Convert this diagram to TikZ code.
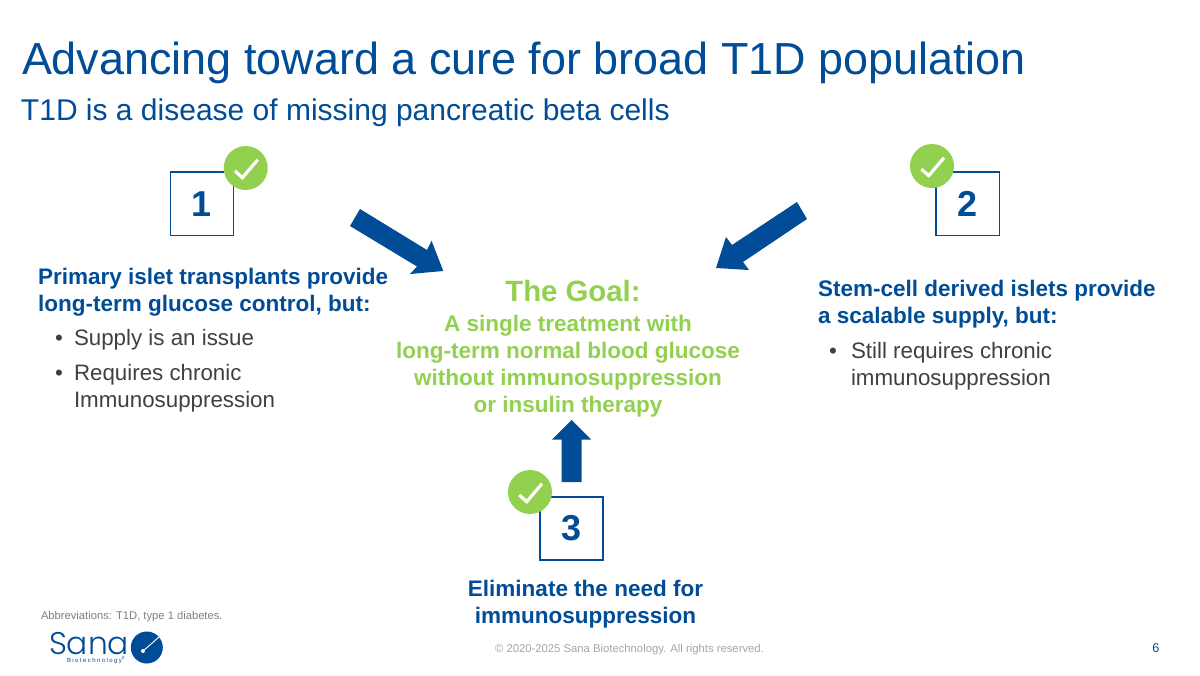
\documentclass[tikz,border=0pt]{standalone}
\usepackage{fontspec}
\setmainfont{Liberation Sans}
\newfontfamily\logofont{Poppins Light}
\newfontfamily\biofont[LetterSpace=24]{Liberation Sans}
\definecolor{sanablue}{HTML}{004C97}
\definecolor{sanagreen}{HTML}{92D050}
\definecolor{abbrgrey}{HTML}{7F7F7F}
\definecolor{footgrey}{HTML}{A6A6A6}
\tikzset{
  x=0.75pt,y=-0.75pt,
  txt/.style={inner sep=0pt,outer sep=0pt,anchor=base west},
  ctr/.style={inner sep=0pt,outer sep=0pt,anchor=base},
  titletxt/.style={txt,text=sanablue,font=\fontsize{33.7}{40}\selectfont},
  subtxt/.style={txt,text=sanablue,font=\fontsize{22.5}{26}\selectfont},
  headtxt/.style={text=sanablue,font=\bfseries\fontsize{16.88}{20}\selectfont},
  bodytxt/.style={txt,text=black!75,font=\fontsize{16.75}{20}\selectfont},
  goaltxt/.style={ctr,text=sanagreen,font=\bfseries\fontsize{16.88}{20}\selectfont},
  numbox/.style={draw=sanablue,line width=1.2pt,fill=white,minimum width=47.5pt,minimum height=47.5pt,inner sep=0pt,text=sanablue,font=\bfseries\fontsize{27}{30}\selectfont},
  badge/.style={circle,fill=sanagreen,draw=none,minimum size=33pt,inner sep=0pt},
  tick/.style={draw=white,line width=2.4pt,line join=miter},
  blockarrow/.style={fill=sanablue,draw=none},
}
\newcommand{\tickmark}[1]{\draw[tick] ($(#1)+(-10.7,3)$) -- ($(#1)+(-3.3,9.7)$) -- ($(#1)+(12,-8.3)$);}
\usetikzlibrary{calc}
\begin{document}
\begin{tikzpicture}
\useasboundingbox (0,0) rectangle (1200,675);
\fill[white] (0,0) rectangle (1200,675);
\node[titletxt] (title) at (22,74) {Advancing toward a cure for broad T1D population};
\node[subtxt] (subtitle) at (21,120) {T1D is a disease of missing pancreatic beta cells};

\node[numbox] (box1) at (202,203.7) {1};
\node[numbox] (box2) at (967.7,203.7) {2};
\node[numbox] (box3) at (571.5,528.5) {3};
\node[badge] (b1) at (245.7,168) {};
\node[badge] (b2) at (932,166) {};
\node[badge] (b3) at (530,492) {};
\tickmark{b1}
\tickmark{b2}
\tickmark{b3}

\fill[blockarrow] (360,209) -- (427,250) -- (431.5,240.7) -- (443.3,271) -- (410,274) -- (417,266.5) -- (350,226) -- cycle;
\fill[blockarrow] (797,202) -- (732,245) -- (726,237) -- (716,268) -- (749,270) -- (743,262) -- (807,219) -- cycle;
\fill[blockarrow] (571.7,420) -- (591,439.5) -- (581.7,439.5) -- (581.7,482) -- (561.7,482) -- (561.7,439.5) -- (552,439.5) -- cycle;

\node[txt,headtxt] (l1) at (38,284) {Primary islet transplants provide};
\node[txt,headtxt] (l2) at (38,311) {long-term glucose control, but:};
\node[bodytxt] (l3d) at (55,345) {•};
\node[bodytxt] (l3) at (74,345) {Supply is an issue};
\node[bodytxt] (l4d) at (55,380) {•};
\node[bodytxt] (l4) at (74,380) {Requires chronic};
\node[bodytxt] (l5) at (74,407) {Immunosuppression};

\node[txt,headtxt] (r1) at (818,296) {Stem-cell derived islets provide};
\node[txt,headtxt] (r2) at (818,323) {a scalable supply, but:};
\node[bodytxt] (r3d) at (829,358) {•};
\node[bodytxt] (r3) at (851,358) {Still requires chronic};
\node[bodytxt] (r4) at (851,385) {immunosuppression};

\node[goaltxt,font=\bfseries\fontsize{22}{26}\selectfont] (g0) at (573,301) {The Goal:};
\node[goaltxt] (g1) at (568,331) {A single treatment with};
\node[goaltxt] (g2) at (568,358) {long-term normal blood glucose};
\node[goaltxt] (g3) at (568,385) {without immunosuppression};
\node[goaltxt] (g4) at (568,412) {or insulin therapy};

\node[ctr,headtxt] (c1) at (585.5,596) {Eliminate the need for};
\node[ctr,headtxt] (c2) at (585.5,623) {immunosuppression};

\node[txt,text=abbrgrey,font=\fontsize{8.4}{10}\selectfont] (abbr) at (41,619) {Abbreviations: T1D, type 1 diabetes.};
\node[ctr,text=footgrey,font=\fontsize{8.46}{11}\selectfont] (foot) at (629.5,652) {© 2020-2025 Sana Biotechnology. All rights reserved.};
\node[ctr,text=sanablue,font=\fontsize{9.5}{11}\selectfont] (page) at (1156,652) {6};

\node[txt,text depth=0pt,text height=16pt,text=sanablue,font=\logofont\fontsize{23.5}{26}\selectfont] (sana) at (49,654) {Sana};
\node[txt,text height=3pt,text=sanablue,font=\biofont\fontsize{4.5}{5}\selectfont] (bio) at (67,662.5) {Biotechnology\textsuperscript{®}};
\fill[sanablue] (146.8,647.5) circle[radius=16];
\draw[white,line width=0.7pt] (143,651) -- (159,637);
\fill[white] (143,651) circle[radius=2];
\end{tikzpicture}
\end{document}
